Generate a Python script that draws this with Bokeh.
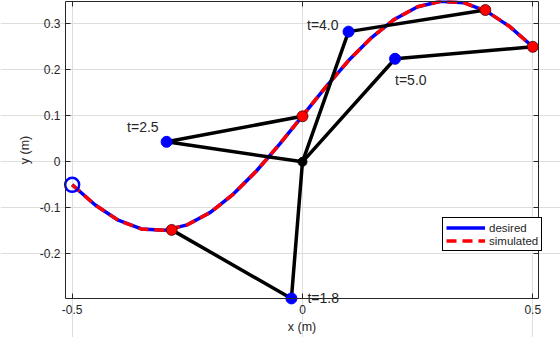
from bokeh.plotting import figure
from bokeh.models import FixedTicker, Range1d, Legend, LegendItem, LinearAxis, Label
from bokeh.embed import file_html
from bokeh.resources import INLINE

# ---- data ----
path_x = [-0.50, -0.45, -0.40, -0.35, -0.30, -0.25, -0.20, -0.15, -0.10, -0.05, 0.00,
          0.05, 0.10, 0.15, 0.20, 0.25, 0.30, 0.35, 0.40, 0.45, 0.50]
desired_y = [-0.050, -0.094, -0.127, -0.146, -0.149, -0.137, -0.110, -0.070, -0.020, 0.038, 0.100,
             0.162, 0.220, 0.270, 0.310, 0.337, 0.349, 0.346, 0.327, 0.294, 0.250]
simulated_y = [-0.050, -0.094, -0.127, -0.146, -0.149, -0.137, -0.110, -0.070, -0.020, 0.038, 0.100,
               0.162, 0.220, 0.270, 0.310, 0.337, 0.349, 0.346, 0.327, 0.294, 0.250]

base_x = [0.0]
base_y = [0.0]
time_labels = ["t=1.8", "t=2.5", "t=4.0", "t=5.0"]
elbow_x = [-0.024, -0.295, 0.100, 0.201]
elbow_y = [-0.297, 0.0435, 0.283, 0.224]
hand_x = [-0.284, 0.000, 0.397, 0.500]
hand_y = [-0.148, 0.099, 0.330, 0.250]
start_x = [-0.50]
start_y = [-0.05]

x_lim = (-0.5145, 0.5124)
y_lim = (-0.297, 0.3485)
x_ticks = [-0.5, 0, 0.5]
x_tick_labels = ["-0.5", "0", "0.5"]
y_ticks = [-0.2, -0.1, 0, 0.1, 0.2, 0.3]
y_tick_labels = ["-0.2", "-0.1", "0", "0.1", "0.2", "0.3"]

FONT = "Liberation Sans"
TXT = "#262626"
W, H = 560, 337

# The plotting frame covers the whole page so that marks and texts lying on the
# axes are not clipped; the four axes are drawn at the data limits.
pxu_x = 460.6
pxu_y = 460.0
x_view_start = x_lim[0] - 65 / pxu_x
x_view_end = x_view_start + W / pxu_x
y_view_end = y_lim[1] + 1 / pxu_y
y_view_start = y_view_end - H / pxu_y

p = figure(width=W, height=H, output_backend="svg", toolbar_location=None,
           x_range=Range1d(x_view_start, x_view_end), y_range=Range1d(y_view_start, y_view_end),
           x_axis_label="x (m)", y_axis_label="y (m)",
           min_border_left=0, min_border_right=0, min_border_top=0, min_border_bottom=0)
p.outline_line_color = None
p.background_fill_color = "white"
p.border_fill_color = "white"

def style_axis(ax, ticks, labels, show):
    ax.ticker = FixedTicker(ticks=ticks)
    ax.major_label_overrides = {t: (l if show else "") for t, l in zip(ticks, labels)}
    ax.major_tick_in = 5
    ax.major_tick_out = 0
    ax.minor_tick_line_color = None
    ax.axis_line_color = TXT
    ax.major_tick_line_color = TXT
    ax.major_label_text_font = FONT
    ax.major_label_text_font_size = "12px"
    ax.major_label_text_color = TXT
    ax.axis_label_text_font = FONT
    ax.axis_label_text_font_size = "12.5px"
    ax.axis_label_text_font_style = "normal"
    ax.axis_label_text_color = TXT

xa = p.xaxis[0]
ya = p.yaxis[0]
style_axis(xa, x_ticks, x_tick_labels, True)
style_axis(ya, y_ticks, y_tick_labels, True)
xa.fixed_location = y_lim[0]
xa.bounds = x_lim
xa.major_label_standoff = 7
xa.axis_label_standoff = 2
ya.fixed_location = x_lim[0]
ya.bounds = y_lim
ya.major_label_standoff = 5
ya.axis_label_standoff = 5

top = LinearAxis(fixed_location=y_lim[1], bounds=x_lim)
style_axis(top, x_ticks, x_tick_labels, False)
p.add_layout(top, "above")
right = LinearAxis(fixed_location=x_lim[1], bounds=y_lim)
style_axis(right, y_ticks, y_tick_labels, False)
p.add_layout(right, "right")

p.xgrid.ticker = FixedTicker(ticks=x_ticks)
p.ygrid.ticker = FixedTicker(ticks=y_ticks)
p.xgrid.bounds = y_lim
p.ygrid.bounds = x_lim
p.xgrid.grid_line_color = "#dedede"
p.ygrid.grid_line_color = "#dedede"

r_des = p.line(path_x, desired_y, line_color="#0000ff", line_width=3.5)
r_sim = p.line(path_x, simulated_y, line_color="#ff0000", line_width=3.5, line_dash="10 6")

arm_xs = [[bx, ex, hx] for bx, ex, hx in zip(base_x * 4, elbow_x, hand_x)]
arm_ys = [[by, ey, hy] for by, ey, hy in zip(base_y * 4, elbow_y, hand_y)]
p.multi_line(arm_xs, arm_ys, line_color="black", line_width=3.5)

p.scatter(hand_x, hand_y, size=11, fill_color="#ff0000", line_color="#400000", line_width=0.8)
p.scatter(elbow_x, elbow_y, size=11, fill_color="#0000ff", line_color="#0000ff")
p.scatter(base_x, base_y, size=9, fill_color="black", line_color="black")
p.scatter(start_x, start_y, size=14, fill_color=None, line_color="#0000ff", line_width=2.5)

label_style = [("left", 16, 0), ("right", -8, 15), ("right", -10, 7), ("left", 0, -21)]
for txt, ex, ey, (al, dx, dy) in zip(time_labels, elbow_x, elbow_y, label_style):
    p.add_layout(Label(x=ex, y=ey, text=txt, x_offset=dx, y_offset=dy, text_align=al,
                       text_baseline="middle", text_font=FONT, text_font_size="14px",
                       text_color=TXT))

legend = Legend(items=[LegendItem(label="desired", renderers=[r_des]),
                       LegendItem(label="simulated", renderers=[r_sim])],
                location=(442, 86), padding=3, spacing=0, margin=0,
                glyph_width=39, glyph_height=13, label_height=13, label_standoff=4,
                label_text_font=FONT, label_text_font_size="11.5px", label_text_color=TXT,
                border_line_color="black", border_line_alpha=1, border_line_width=1,
                background_fill_color="white", background_fill_alpha=1)
p.add_layout(legend)

open("out.html", "w").write(file_html(p, INLINE))
